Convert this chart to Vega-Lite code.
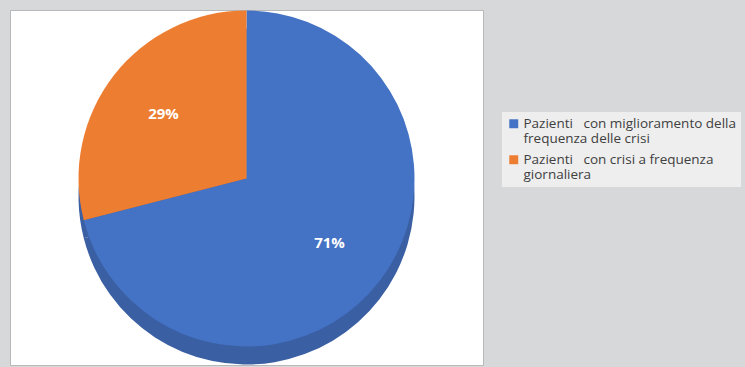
{
  "$schema": "https://vega.github.io/schema/vega-lite/v6.json",
  "autosize": {"type": "none"},
  "width": 473,
  "height": 355,
  "padding": {"left": 10, "top": 10, "right": 262, "bottom": 2},
  "background": "#d7d8d9",
  "view": {"fill": "#ffffff", "stroke": "#b8b8b8", "strokeWidth": 1},
  "config": {
    "font": "Open Sans"
  },
  "data": {
    "values": [
      {"categoria": "Pazienti con miglioramento della frequenza delle crisi", "valore": 71, "etichetta": "71%", "ord": 1},
      {"categoria": "Pazienti con crisi a frequenza giornaliera", "valore": 29, "etichetta": "29%", "ord": 2}
    ]
  },
  "encoding": {
    "theta": {"field": "valore", "type": "quantitative", "stack": true},
    "order": {"field": "ord", "type": "ordinal"}
  },
  "layer": [
    {
      "mark": {"type": "arc", "radius": 168, "yOffset": 9, "fill": "#3a5fa3"},
      "encoding": {}
    },
    {
      "mark": {"type": "arc", "radius": 168, "yOffset": -9},
      "encoding": {
        "color": {
          "field": "categoria",
          "type": "nominal",
          "sort": ["Pazienti con miglioramento della frequenza delle crisi", "Pazienti con crisi a frequenza giornaliera"],
          "scale": {
            "domain": ["Pazienti con miglioramento della frequenza delle crisi", "Pazienti con crisi a frequenza giornaliera"],
            "range": ["#4472c4", "#ed7d31"]
          },
          "legend": {
            "title": null,
            "orient": "none",
            "legendX": 492,
            "legendY": 102,
            "symbolType": "square",
            "symbolSize": 80,
            "symbolStrokeWidth": 0,
            "labelFontSize": 13.5,
            "labelColor": "#404040",
            "labelFont": "Open Sans",
            "labelLimit": 300,
            "labelOffset": 3,
            "rowPadding": 6,
            "fillColor": "#eeeeee",
            "padding": 5,
            "labelExpr": "datum.label == 'Pazienti con miglioramento della frequenza delle crisi' ? ['Pazienti\u00a0\u00a0\u00a0con miglioramento della', 'frequenza delle crisi'] : ['Pazienti\u00a0\u00a0\u00a0con crisi a frequenza', 'giornaliera']"
          }
        }
      }
    },
    {
      "mark": {"type": "text", "radius": 105, "yOffset": -9, "fontSize": 15, "fontWeight": "bold", "fill": "#ffffff", "font": "Open Sans"},
      "encoding": {
        "text": {"field": "etichetta", "type": "nominal"}
      }
    }
  ]
}
